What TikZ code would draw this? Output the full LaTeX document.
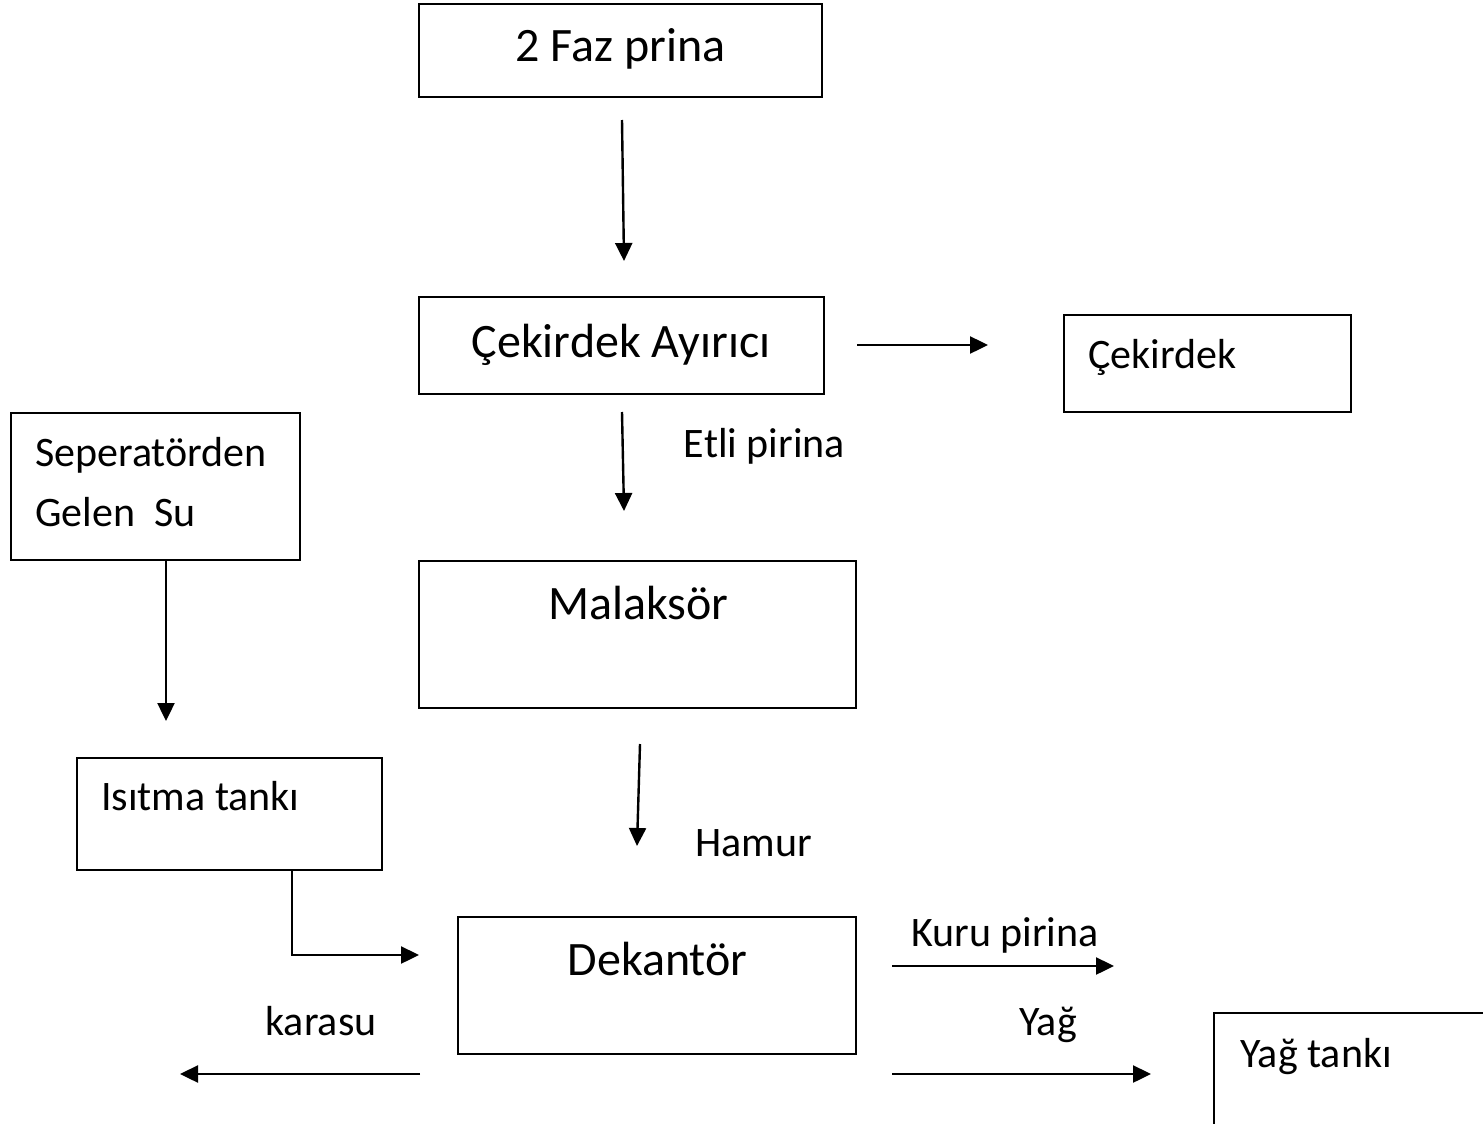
\documentclass[tikz,border=0pt]{standalone}
\usepackage{fontspec}
\setmainfont{Carlito}
\usetikzlibrary{arrows.meta}
\begin{document}
\begin{tikzpicture}[x=1pt,y=-1pt,
  box/.style={draw, line width=2.2pt, inner sep=0pt},
  big/.style={inner sep=0pt, font=\fontsize{48}{58}\selectfont},
  small/.style={inner sep=0pt, font=\fontsize{42}{50}\selectfont},
  flow/.style={line width=2.4pt, -{Triangle[length=18pt,width=17pt]}}]
\useasboundingbox (0,0) rectangle (1483,1124);
\clip (0,0) rectangle (1483,1124);
% boxes
\draw[box] (419,4) rectangle (822,97);
\draw[box] (419,297) rectangle (824,394);
\draw[box] (1064,315) rectangle (1351,412);
\draw[box] (11,413) rectangle (300,560);
\draw[box] (419,561) rectangle (856,708);
\draw[box] (77,758) rectangle (382,870);
\draw[box] (458,917) rectangle (856,1054);
\draw[box] (1214,1013) rectangle (1500,1140);
% texts
\node[big, anchor=base] (t-faz) at (620.5,62) {2 Faz prina};
\node[big, anchor=base] (t-ayirici) at (621,357) {Çekirdek Ayırıcı};
\node[small, anchor=base west] (t-cekirdek) at (1088,368) {Çekirdek};
\node[small, anchor=base west] (t-sep1) at (35,466) {Seperatörden};
\node[small, anchor=base west] (t-sep2) at (35,526) {Gelen \ Su};
\node[small, anchor=base] (t-etli) at (764.5,457) {Etli pirina};
\node[big, anchor=base] (t-malak) at (638.5,619) {Malaksör};
\node[small, anchor=base west] (t-isitma) at (101,810) {Isıtma tankı};
\node[small, anchor=base] (t-hamur) at (753.5,856) {Hamur};
\node[small, anchor=base] (t-kuru) at (1005,946) {Kuru pirina};
\node[big, anchor=base] (t-dekantor) at (657.5,975) {Dekantör};
\node[small, anchor=base] (t-yag) at (1048,1035) {Yağ};
\node[small, anchor=base] (t-karasu) at (321,1035) {karasu};
\node[small, anchor=base west] (t-yagtank) at (1240,1067) {Yağ tankı};
% arrow coordinates
\coordinate (a1s) at (622,120); \coordinate (a1e) at (624,261);
\coordinate (a2s) at (622,412); \coordinate (a2e) at (624,511);
\coordinate (a3s) at (640,744); \coordinate (a3e) at (637,846);
\coordinate (a4s) at (857,345); \coordinate (a4e) at (988,345);
\coordinate (a5s) at (166,560); \coordinate (a5e) at (166,721);
\coordinate (a6s) at (292,870); \coordinate (a6m) at (292,955); \coordinate (a6e) at (419,955);
\coordinate (a7s) at (892,966); \coordinate (a7e) at (1114,966);
\coordinate (a8s) at (892,1074); \coordinate (a8e) at (1151,1074);
\coordinate (a9s) at (420,1074); \coordinate (a9e) at (180,1074);
% arrows
\draw[flow] (a1s) -- (a1e);
\draw[flow] (a2s) -- (a2e);
\draw[flow] (a3s) -- (a3e);
\draw[flow] (a4s) -- (a4e);
\draw[flow] (a5s) -- (a5e);
\draw[flow] (a6s) -- (a6m) -- (a6e);
\draw[flow] (a7s) -- (a7e);
\draw[flow] (a8s) -- (a8e);
\draw[flow] (a9s) -- (a9e);
\end{tikzpicture}
\end{document}
